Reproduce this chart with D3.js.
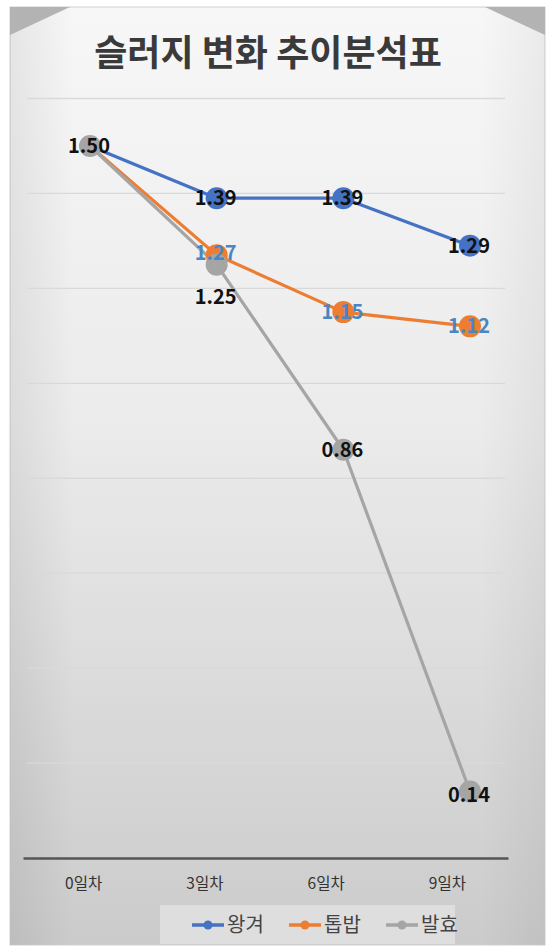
<!DOCTYPE html>
<html><head><meta charset="utf-8">
<script src="https://cdn.jsdelivr.net/npm/d3@7/dist/d3.min.js"></script>
<style>html,body{margin:0;padding:0;background:#fff;}svg{display:block;}</style>
</head><body>
<script>
const categories = ["0일차", "3일차", "6일차", "9일차"];
const seriesNames = ["왕겨", "톱밥", "발효"];
const wanggyeo = [1.50, 1.39, 1.39, 1.29];
const topbap = [1.50, 1.27, 1.15, 1.12];
const balhyo = [1.50, 1.25, 0.86, 0.14];
const yTicks = [0, 0.2, 0.4, 0.6, 0.8, 1.0, 1.2, 1.4, 1.6];
const title = "슬러지 변화 추이분석표";

const W = 552, H = 952;
const svg = d3.select("body").append("svg").attr("width", W).attr("height", H);
const defs = svg.append("defs");
const lg = defs.append("linearGradient").attr("id", "bg").attr("x1", 0).attr("y1", 0).attr("x2", 0).attr("y2", 1);
lg.append("stop").attr("offset", "0%").attr("stop-color", "#f7f7f7");
lg.append("stop").attr("offset", "45%").attr("stop-color", "#ebebeb");
lg.append("stop").attr("offset", "100%").attr("stop-color", "#cbcbcb");
const lgx = defs.append("linearGradient").attr("id", "bgx").attr("x1", 0).attr("y1", 0).attr("x2", 1).attr("y2", 0);
lgx.append("stop").attr("offset", "0%").attr("stop-color", "#000").attr("stop-opacity", 0.07);
lgx.append("stop").attr("offset", "12%").attr("stop-color", "#000").attr("stop-opacity", 0);
lgx.append("stop").attr("offset", "88%").attr("stop-color", "#000").attr("stop-opacity", 0);
lgx.append("stop").attr("offset", "100%").attr("stop-color", "#000").attr("stop-opacity", 0.05);

// frame
svg.append("rect").attr("x", 10).attr("y", 7).attr("width", 535).attr("height", 938).attr("fill", "url(#bg)").attr("stroke", "#d0d0d0");
svg.append("rect").attr("x", 10).attr("y", 7).attr("width", 535).attr("height", 938).attr("fill", "url(#bgx)");
svg.append("polygon").attr("points", "10,7 70,7 10,35").attr("fill", "#b3b3b3");
svg.append("polygon").attr("points", "485,7 545,7 545,35").attr("fill", "#b3b3b3");

// title
svg.append("text").attr("x", 268).attr("y", 66).attr("text-anchor", "middle")
  .attr("font-family", "Noto Sans CJK KR").attr("font-weight", "bold").attr("font-size", 36)
  .attr("fill", "#3a3a3a").text(title);

const y = d3.scaleLinear().domain([0, 1.6]).range([858, 98.5]);
const xPts = d3.scalePoint().domain(categories).range([90, 470]);
const xAxisScale = d3.scaleBand().domain(categories).range([23, 508]);

// gridlines
svg.append("g").selectAll("line").data(yTicks.filter(d => d > 0)).join("line")
  .attr("x1", 27).attr("x2", 505).attr("y1", d => y(d)).attr("y2", d => y(d))
  .attr("stroke", "#d9d9d9").attr("stroke-width", 1.3);

// x axis
const xAxis = svg.append("g").attr("transform", "translate(0,858)").call(d3.axisBottom(xAxisScale).tickSize(0).tickPadding(20));
xAxis.select(".domain").attr("stroke", "#555").attr("stroke-width", 2.5);
xAxis.selectAll("text").attr("font-family", "Noto Sans CJK KR").attr("font-size", 15.5).attr("fill", "#333");

const series = [
  {name: seriesNames[0], values: wanggyeo, color: "#4472C4"},
  {name: seriesNames[1], values: topbap, color: "#ED7D31"},
  {name: seriesNames[2], values: balhyo, color: "#A5A5A5"}
];
const line = d3.line().x((d, i) => xPts(categories[i])).y(d => y(d));
series.forEach(s => {
  svg.append("path").attr("d", line(s.values)).attr("fill", "none").attr("stroke", s.color).attr("stroke-width", 3.2).attr("stroke-linejoin", "round");
});
series.forEach(s => {
  svg.append("g").selectAll("circle").data(s.values).join("circle")
    .attr("cx", (d, i) => xPts(categories[i])).attr("cy", d => y(d)).attr("r", 11)
    .attr("fill", s.color).attr("display", (d, i) => (s.name !== "발효" && i === 0) ? "none" : null);
});

// data labels
const labelStyle = [
  {vals: wanggyeo, color: "#111", dy: [7, 7, 7, 7], skip: [0]},
  {vals: topbap, color: "#4a86c0", dy: [7, 5, 7, 7], skip: [0]},
  {vals: balhyo, color: "#111", dy: [7, 39, 7, 10], skip: []}
];
labelStyle.forEach(ls => {
  svg.append("g").selectAll("text").data(ls.vals).join("text")
    .attr("display", (d, i) => ls.skip.includes(i) ? "none" : null)
    .attr("x", (d, i) => xPts(categories[i]) - 1).attr("y", (d, i) => y(d) + ls.dy[i])
    .attr("text-anchor", "middle").attr("font-family", "Noto Sans CJK KR").attr("font-weight", "bold")
    .attr("font-size", 20).attr("fill", ls.color).text(d => d.toFixed(2));
});

// legend
svg.append("rect").attr("x", 160).attr("y", 905).attr("width", 295).attr("height", 39).attr("fill", "#dedede");
const legX = [192, 289, 386];
series.forEach((s, i) => {
  const g = svg.append("g").attr("transform", `translate(${legX[i]},925)`);
  g.append("line").attr("x1", 0).attr("x2", 32).attr("stroke", s.color).attr("stroke-width", 3.5);
  g.append("circle").attr("cx", 16).attr("r", 4.5).attr("fill", s.color);
  g.append("text").attr("x", 35).attr("y", 7).attr("font-family", "Noto Sans CJK KR").attr("font-size", 20)
    .attr("fill", "#444").text(s.name);
});
</script>
</body></html>
